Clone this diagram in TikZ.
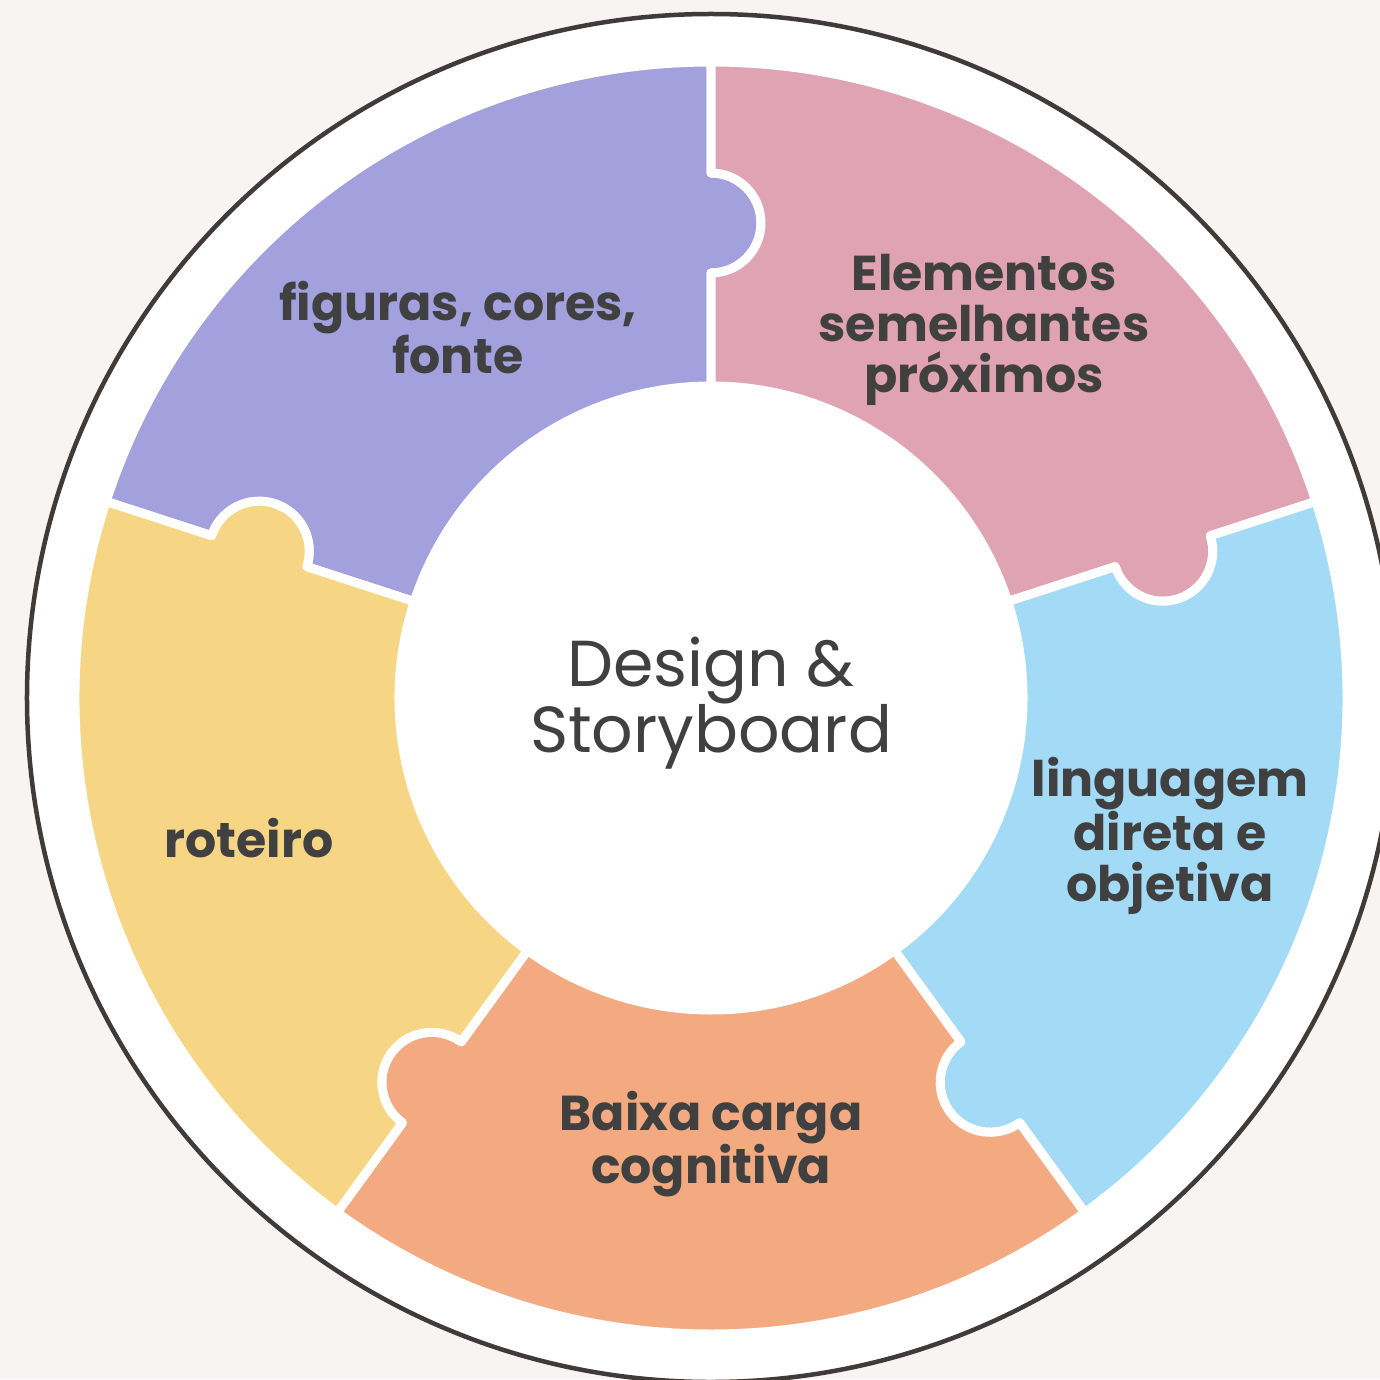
\documentclass[tikz,border=0pt]{standalone}
\usepackage{fontspec}
\setmainfont{Poppins}
\definecolor{bgcol}{HTML}{F8F4F3}
\definecolor{outl}{HTML}{3F3B3B}
\definecolor{txt}{HTML}{404040}
\definecolor{cpurple}{HTML}{A3A0DE}
\definecolor{cpink}{HTML}{E0A3B4}
\definecolor{cblue}{HTML}{A3DAF6}
\definecolor{corange}{HTML}{F4AA80}
\definecolor{cyellow}{HTML}{F6D585}
\tikzset{
  piece/.style={draw=white, line width=9pt, line join=round},
  lbl/.style={text=txt, align=center, inner sep=0pt, font=\bfseries\fontsize{49}{51}\selectfont},
  ctr/.style={text=txt, align=center, inner sep=0pt, font=\fontsize{65}{64}\selectfont}
}
\begin{document}
\begin{tikzpicture}[x=1pt,y=1pt]
\fill[bgcol] (-711,-681) rectangle (669,698);
\useasboundingbox (-711,-681) rectangle (669,698);
\draw[fill=white, draw=outl, line width=4.5pt] (0,0) circle[radius=684];
\foreach \a/\c in {90/cpurple, 18/cpink, -54/cblue, -126/corange, -198/cyellow} {
  \pgfmathsetmacro\b{\a+72}
  \filldraw[piece, fill=\c]
    (\a:312) -- (\a:425) arc[start angle=\a+180, end angle=\a+360, radius=50]
    -- (\a:636) arc[start angle=\a, end angle=\b, radius=636]
    -- (\b:525) arc[start angle=\b, end angle=\b-180, radius=50]
    -- (\b:312) arc[start angle=\b, end angle=\a, radius=312] -- cycle;
}
\node[lbl] (fig) at (-253,370) {figuras, cores,\\fonte};
\node[lbl] (ele) at (273,368) {Elementos\\semelhantes\\próximos};
\node[lbl] (lin) at (459,-138) {linguagem\\direta e\\objetiva};
\node[lbl] (bai) at (0,-446) {Baixa carga\\cognitiva};
\node[lbl] (rot) at (-462,-140) {roteiro};
\node[ctr] (des) at (0,-5) {Design \&\\Storyboard};
\end{tikzpicture}
\end{document}
